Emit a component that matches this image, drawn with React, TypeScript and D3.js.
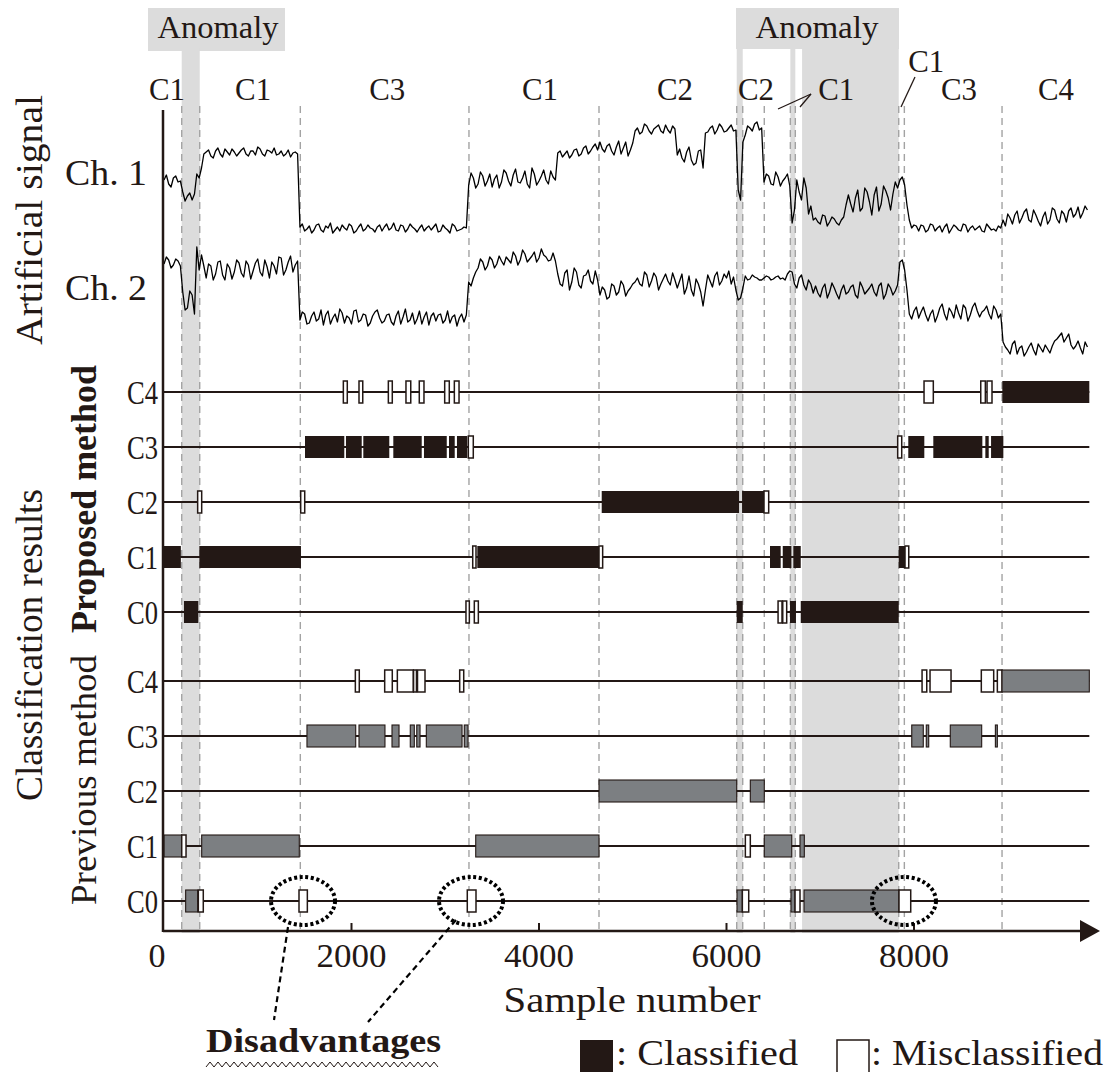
import React from "react";
import * as d3 from "d3";

const W = 1112;
const H = 1072;
const INK = "#231815";
const GRAY_BAR = "#7c7f82";
const SHADE = "#dcdcdc";
const SERIF = "Times New Roman, Times, Liberation Serif, Nimbus Roman, FreeSerif, serif";

// Artificial signal: readings every SAMPLE_STEP samples, plus the in-between
// readings (offset by half a step)
const SAMPLE_STEP = 50;
const ch1Values = [
  7.0, 6.6, 7.2, 6.8,
  5.8, 5.4, 5.0, 7.6, 8.2,
  9.8, 9.4, 9.9, 9.6, 10.1, 9.5, 9.8, 9.7, 10.2, 9.4, 9.9, 10.3, 9.6, 10.0, 9.7, 9.5, 9.9, 9.6, 9.3, 9.8,
  2.3, 1.9, 2.4, 2.0, 2.6, 1.8, 2.2, 1.7, 2.3, 2.5, 2.0, 2.4, 1.9, 2.6, 2.1, 2.2, 1.8, 2.5, 2.3, 2.0,
  2.7, 1.9, 2.4, 2.1, 2.3, 1.8, 2.5, 2.2, 2.0, 2.6, 1.9, 2.2, 1.7, 2.4, 2.0, 2.3,
  6.5, 7.2, 6.6, 7.4, 6.9, 6.3, 7.5, 6.8, 7.7, 6.4, 8.1, 6.7, 7.9, 6.2, 7.6, 6.9, 8.0, 6.6, 7.3,
  9.7, 9.3, 9.9, 9.5, 10.1, 9.6, 10.4, 9.9, 10.6,
  10.8, 9.8, 10.6, 9.5, 10.9, 10.2, 9.4, 10.7,
  12.2, 11.8, 12.4, 11.6, 12.3, 11.9, 12.5, 11.7, 12.1,
  10.1, 8.8, 10.3, 8.5, 9.9, 8.2,
  11.8, 12.4, 12.0, 12.3, 11.9, 12.5,
  12.0, 5.0, 11.5, 12.2, 12.6, 12.0,
  6.8, 7.4, 6.5, 7.3, 6.9, 7.6,
  2.7, 7.0, 5.0, 6.2, 4.4,
  3.2, 2.6, 3.4, 2.8, 3.1, 2.5, 3.3,
  5.5, 3.8, 6.0, 4.2, 5.8, 3.5, 6.3, 4.6, 5.9, 4.0, 6.8,
  7.0, 6.5, 3.0, 2.5,
  1.9, 2.4, 2.0, 2.5, 2.2, 1.8, 2.6, 2.1, 2.3, 1.9, 2.5, 2.2, 2.0, 2.4, 1.8, 2.3, 2.1, 2.4,
  3.0, 3.6, 2.6, 3.9, 3.2, 4.1, 2.8, 3.5, 2.4, 3.8, 3.0, 4.0, 2.7, 3.6, 3.9, 3.3, 4.3, 3.7, 4.0,
];
const ch1Between = [
  7.5, 6.3, 7.4, 6.9,
  4.9, 5.7, 5.6, 7.2, 9.6,
  10.0, 9.2, 10.2, 9.3, 9.8, 10.1, 9.4, 10.0, 9.6, 9.9, 9.5, 10.1, 9.4, 9.9, 10.2, 9.6, 9.4, 10.0, 9.7, 9.6,
  2.6, 2.1, 1.7, 2.5, 2.0, 2.4, 2.7, 2.0, 1.9, 2.2, 2.6, 1.7, 2.3, 1.9, 2.5, 2.1, 2.3, 1.9, 2.6, 2.2,
  2.0, 2.5, 1.8, 2.6, 2.1, 2.2, 1.9, 2.4, 2.3, 1.8, 2.5, 2.0, 2.6, 1.9, 2.1, 2.2,
  7.7, 6.2, 7.8, 6.4, 7.6, 7.1, 6.2, 8.0, 6.9, 7.5, 6.8, 7.2, 6.6, 8.2, 6.5, 7.4, 7.0, 7.9, 7.0,
  9.9, 9.6, 9.2, 10.0, 9.4, 10.2, 9.6, 10.3, 10.0,
  10.1, 10.4, 9.9, 10.3, 9.6, 10.8, 10.0, 11.9,
  11.6, 12.6, 11.9, 12.1, 12.5, 11.7, 12.0, 12.4, 9.5,
  9.2, 9.8, 9.0, 8.7, 10.0, 11.7,
  12.2, 11.6, 12.6, 11.8, 12.2, 11.9,
  6.0, 10.8, 12.4, 11.9, 12.8, 12.2,
  7.6, 6.6, 7.8, 6.4, 7.2, 6.4,
  4.0, 5.8, 7.2, 3.6, 3.0,
  2.8, 3.5, 2.4, 3.3, 2.7, 3.0, 4.5,
  4.6, 5.2, 3.9, 6.2, 4.8, 5.5, 3.9, 6.4, 5.2, 5.6, 6.2,
  7.3, 4.5, 2.2, 2.4,
  2.5, 1.8, 2.6, 1.9, 2.4, 2.3, 1.7, 2.5, 2.0, 2.6, 1.8, 2.4, 2.2, 1.9, 2.6, 2.0, 1.9, 2.2,
  2.4, 3.2, 3.5, 2.7, 3.8, 3.0, 4.0, 2.9, 3.3, 2.6, 4.2, 3.1, 3.9, 2.8, 4.2, 3.6, 3.2, 4.4,
];
const ch2Values = [
  9.6, 10.0, 9.5, 9.9,
  6.8, 5.2, 6.5, 11.3, 10.5,
  8.2, 9.4, 8.6, 9.9, 8.0, 9.2, 8.8, 9.7, 8.3, 9.5, 8.9, 10.1, 8.4, 9.3, 9.8, 8.6, 10.2, 9.0, 10.4, 9.5,
  4.0, 4.6, 3.7, 4.8, 4.1, 3.5, 4.9, 4.2, 3.8, 4.7, 4.4, 3.6, 5.0, 4.0, 4.5, 3.7, 4.8, 4.2, 3.9, 4.6,
  3.5, 4.9, 4.3, 3.8, 4.7, 4.1, 3.6, 4.8, 4.4, 3.9, 4.6, 4.0, 3.7, 4.5, 4.2, 3.8,
  7.8, 8.2, 9.2, 9.8, 9.4, 10.0, 9.6, 9.9, 10.3, 9.7, 10.4, 10.0, 10.6, 10.1, 10.8, 10.2, 10.5, 9.9, 10.7,
  8.6, 7.4, 9.0, 7.8, 8.8, 7.2, 8.5, 7.9, 8.9,
  6.5, 7.0, 6.3, 7.4, 6.8, 7.5, 6.9, 7.6,
  8.2, 7.4, 8.5, 7.9, 8.3, 7.6, 8.6, 7.5, 8.0,
  7.9, 6.6, 8.4, 6.4, 7.6, 5.4,
  8.5, 7.3, 8.8, 7.9, 8.2, 7.6,
  7.0, 6.2, 8.4, 8.1, 8.3, 8.0,
  8.2, 8.3, 8.1, 8.4, 8.2, 8.6,
  8.8, 7.2, 8.5, 7.0, 7.6,
  7.4, 6.3, 7.6, 6.8, 7.2, 6.1, 7.5,
  6.8, 7.5, 6.2, 7.3, 6.9, 7.6, 6.4, 7.7, 6.6, 7.2, 6.9,
  9.8, 9.0, 4.6, 4.9,
  4.2, 5.3, 3.9, 5.0, 4.4, 5.6, 4.0, 4.8, 5.5, 4.1, 5.2, 4.5, 5.7, 4.3, 5.0, 4.6, 5.4, 4.2,
  1.8, 1.0, 1.6, 0.6, 1.4, 0.8, 1.7, 0.5, 1.2, 1.5, 0.7, 1.9, 2.4, 1.8, 2.6, 1.1, 1.9, 0.6, 1.3,
];
const ch2Between = [
  10.3, 9.2, 10.1, 9.4,
  5.0, 6.9, 4.6, 9.0, 9.4,
  9.6, 8.0, 9.8, 8.5, 9.6, 8.1, 10.0, 8.7, 9.9, 8.1, 9.7, 8.8, 10.0, 8.2, 9.4, 10.3, 8.5, 9.8, 8.8, 9.9,
  4.8, 3.6, 4.4, 3.9, 5.0, 4.5, 3.6, 4.6, 5.1, 3.7, 4.2, 4.9, 3.8, 4.6, 3.4, 4.4, 5.0, 3.7, 4.5, 3.8,
  4.4, 3.6, 5.1, 4.0, 3.6, 4.9, 4.3, 3.5, 4.7, 4.5, 3.7, 4.9, 4.3, 3.4, 4.6, 4.5,
  7.4, 8.8, 10.1, 9.0, 10.3, 9.2, 10.4, 9.5, 10.0, 10.8, 9.5, 11.0, 9.8, 10.4, 9.8, 11.1, 10.3, 10.0, 9.9,
  7.6, 8.7, 7.0, 9.2, 7.5, 8.4, 9.0, 7.6, 8.0,
  7.3, 6.1, 7.6, 6.5, 7.9, 6.4, 7.2, 7.8,
  7.6, 8.8, 7.3, 8.7, 7.0, 8.1, 7.9, 8.7, 7.2,
  8.6, 7.2, 7.0, 8.1, 6.8, 7.0,
  7.9, 8.4, 7.5, 8.6, 8.9, 8.3,
  6.0, 7.2, 8.0, 8.5, 8.2, 8.0,
  8.4, 8.0, 8.3, 8.1, 8.0, 8.9,
  7.6, 8.2, 7.5, 8.0, 6.7,
  6.7, 7.2, 6.2, 7.7, 6.6, 7.0, 6.6,
  7.3, 6.5, 7.8, 6.6, 7.2, 6.8, 7.4, 6.1, 7.6, 6.5, 7.5,
  10.0, 7.0, 4.1, 5.3,
  4.8, 4.5, 4.6, 3.8, 5.2, 4.6, 5.2, 4.2, 4.7, 5.5, 3.9, 5.3, 4.9, 4.8, 5.4, 4.1, 5.0, 4.6,
  1.3, 0.6, 1.9, 1.2, 0.4, 1.3, 1.0, 1.6, 0.8, 1.1, 1.4, 2.1, 2.7, 2.2, 1.5, 1.4, 1.2, 1.8,
];

const SAMPLE_END = 9870;
const xTicks = [0, 2000, 4000, 6000, 8000];
const classNames = ["C4", "C3", "C2", "C1", "C0"];

// Segment boundaries (sample numbers) and anomaly intervals
const segmentBounds = [189, 381, 1454, 3253, 4640, 6109, 6173, 6403, 6681, 6734, 7837, 7897, 8939];
const anomalySpans: [number, number][] = [[189, 381], [6109, 6173], [6681, 6734], [6806, 7837]];

// True class of each segment, placed at sample position
const segmentLabels = [
  { text: "C1", at: 32, raised: false },
  { text: "C1", at: 950, raised: false },
  { text: "C3", at: 2380, raised: false },
  { text: "C1", at: 4010, raised: false },
  { text: "C2", at: 5450, raised: false },
  { text: "C2", at: 6315, raised: false },
  { text: "C1", at: 7170, raised: false },
  { text: "C1", at: 8130, raised: true },
  { text: "C3", at: 8480, raised: false },
  { text: "C4", at: 9515, raised: false },
];

// Classification intervals: [start, end, classified(1) / misclassified(0)]
type Seg = [number, number, number];
const proposedC4: Seg[] = [[1913, 1955, 0], [2080, 2120, 0], [2393, 2435, 0], [2581, 2632, 0], [2723, 2773, 0], [2994, 3043, 0], [3097, 3147, 0], [8107, 8206, 0], [8712, 8761, 0], [8779, 8832, 0], [8942, 9870, 1]];
const proposedC3: Seg[] = [[1504, 1923, 1], [1941, 2109, 1], [2126, 2403, 1], [2446, 2749, 1], [2773, 3016, 1], [3040, 3101, 1], [3125, 3235, 1], [3246, 3299, 0], [7826, 7869, 0], [7939, 8110, 1], [8206, 8729, 1], [8761, 8797, 1], [8822, 8953, 1]];
const proposedC2: Seg[] = [[359, 402, 0], [1458, 1501, 0], [4669, 6134, 1], [6166, 6400, 1], [6400, 6450, 0]];
const proposedC1: Seg[] = [[0, 180, 1], [377, 1461, 1], [3293, 3328, 0], [3342, 4640, 1], [4640, 4679, 0], [6464, 6578, 1], [6600, 6692, 1], [6713, 6792, 1], [7837, 7904, 1], [7904, 7944, 0]];
const proposedC0: Seg[] = [[213, 366, 1], [3221, 3257, 0], [3310, 3353, 0], [6109, 6173, 1], [6550, 6592, 0], [6600, 6642, 0], [6677, 6741, 1], [6792, 7837, 1]];

const previousC4: Seg[] = [[2041, 2083, 0], [2354, 2435, 0], [2489, 2659, 0], [2662, 2693, 0], [2704, 2784, 0], [3154, 3197, 0], [8086, 8136, 0], [8171, 8395, 0], [8718, 8850, 0], [8889, 8939, 0], [8939, 9870, 1]];
const previousC3: Seg[] = [[1525, 2045, 1], [2080, 2357, 1], [2432, 2507, 1], [2627, 2670, 1], [2696, 2731, 1], [2798, 3179, 1], [3203, 3243, 1], [7976, 8099, 1], [8131, 8157, 1], [8387, 8722, 1], [8868, 8889, 1]];
const previousC2: Seg[] = [[4640, 6109, 1], [6254, 6403, 1]];
const previousC1: Seg[] = [[0, 189, 1], [189, 235, 0], [402, 1443, 1], [3325, 4640, 1], [6201, 6254, 0], [6403, 6696, 1], [6784, 6830, 1]];
const previousC0: Seg[] = [[231, 359, 1], [366, 419, 0], [1440, 1529, 0], [3235, 3328, 0], [6112, 6169, 1], [6169, 6237, 0], [6688, 6731, 1], [6731, 6784, 0], [6827, 7840, 1], [7840, 7965, 0]];

// Circled weaknesses of the previous method (sample positions, row C0)
const weakSpots = [1483, 3275, 7893];

// Merge the on-step and half-step readings into [sample, value] pairs
function toSeries(onStep: number[], between: number[]): [number, number][] {
  const out: [number, number][] = [];
  onStep.forEach((v, i) => {
    out.push([i * SAMPLE_STEP, v]);
    if (i < between.length && i < onStep.length - 1) out.push([i * SAMPLE_STEP + SAMPLE_STEP / 2, between[i]]);
  });
  return out;
}

export default function App() {
  const x = d3.scaleLinear().domain([0, 8000]).range([164, 914]);
  const y1 = d3.scaleLinear().domain([0, 10]).range([250, 150]);
  const y2 = d3.scaleLinear().domain([0, 10]).range([360, 260]);
  const yProp = d3.scalePoint<string>().domain(classNames).range([392, 612]);
  const yPrev = d3.scalePoint<string>().domain(classNames).range([681, 901]);

  const lineGen = (ys: d3.ScaleLinear<number, number>) =>
    d3
      .line<[number, number]>()
      .x((d) => x(d[0]))
      .y((d) => ys(d[1]));

  const series1 = toSeries(ch1Values, ch1Between);
  const series2 = toSeries(ch2Values, ch2Between);

  const proposed = [proposedC4, proposedC3, proposedC2, proposedC1, proposedC0];
  const previous = [previousC4, previousC3, previousC2, previousC1, previousC0];

  const BAR_H = 22;
  const axisY = 931;
  const x0 = 163;
  const xEnd = x(SAMPLE_END);

  const rows = (
    sets: Seg[][],
    yS: d3.ScalePoint<string>,
    fill: string,
    key: string
  ) =>
    sets.map((segs, r) => {
      const cy = yS(classNames[r])!;
      return (
        <g key={key + r}>
          <line x1={x0} x2={xEnd} y1={cy} y2={cy} stroke={INK} strokeWidth={2} />
          {segs.map(([a, b, ok], i) => (
            <rect
              key={i}
              x={x(a)}
              y={cy - BAR_H / 2}
              width={Math.max(x(b) - x(a), 1)}
              height={BAR_H}
              fill={ok ? fill : "#ffffff"}
              stroke={ok && fill === INK ? "none" : INK}
              strokeWidth={ok ? 1.1 : 1.5}
            />
          ))}
          <text
            x={158}
            y={cy + 11.5}
            textAnchor="end"
            fontFamily={SERIF}
            fontSize={33}
            textLength={31}
            lengthAdjust="spacingAndGlyphs"
            fill={INK}
          >
            {classNames[r]}
          </text>
        </g>
      );
    });

  // zigzag underline beneath "Disadvantages"
  const zig: [number, number][] = [];
  for (let px = 206, k = 0; px <= 441; px += 4, k++) zig.push([px, k % 2 ? 1062 : 1067]);

  return (
    <svg width={W} height={H} viewBox={`0 0 ${W} ${H}`} style={{ display: "block", position: "absolute", left: 0, top: 0 }}>
      <rect width={W} height={H} fill="#ffffff" />

      {/* anomaly shading with label boxes */}
      <rect x={148} y={8} width={137} height={43} fill={SHADE} />
      <rect x={736} y={8} width={163} height={41} fill={SHADE} />
      {anomalySpans.map(([a, b], i) => (
        <rect key={i} x={x(a)} y={48} width={x(b) - x(a)} height={933 - 48} fill={SHADE} />
      ))}
      <text x={218} y={38} textAnchor="middle" fontFamily={SERIF} fontSize={32} textLength={121} lengthAdjust="spacingAndGlyphs" fill={INK}>Anomaly</text>
      <text x={817} y={38} textAnchor="middle" fontFamily={SERIF} fontSize={32} textLength={123} lengthAdjust="spacingAndGlyphs" fill={INK}>Anomaly</text>

      {/* segment boundaries */}
      {segmentBounds.map((s, i) => (
        <line key={i} x1={x(s)} x2={x(s)} y1={106} y2={930} stroke="#a3a3a3" strokeWidth={1.4} strokeDasharray="7 5" />
      ))}

      {/* true segment classes */}
      {segmentLabels.map((d, i) => (
        <text key={i} x={x(d.at)} y={d.raised ? 72 : 100} textAnchor="middle" fontFamily={SERIF} fontSize={32} textLength={36} lengthAdjust="spacingAndGlyphs" fill={INK}>
          {d.text}
        </text>
      ))}
      <line x1={778} y1={109} x2={811} y2={94} stroke={INK} strokeWidth={1.3} />
      <line x1={800} y1={107} x2={811} y2={94} stroke={INK} strokeWidth={1.3} />
      <line x1={915} y1={77} x2={901} y2={107} stroke={INK} strokeWidth={1.3} />

      {/* signals */}
      <path d={lineGen(y1)(series1) || ""} fill="none" stroke="#000" strokeWidth={1.3} strokeLinejoin="round" />
      <path d={lineGen(y2)(series2) || ""} fill="none" stroke="#000" strokeWidth={1.3} strokeLinejoin="round" />
      <text x={65} y={185} fontFamily={SERIF} fontSize={35} textLength={82} lengthAdjust="spacingAndGlyphs" fill={INK}>Ch. 1</text>
      <text x={65} y={300} fontFamily={SERIF} fontSize={35} textLength={82} lengthAdjust="spacingAndGlyphs" fill={INK}>Ch. 2</text>

      {/* classification rows */}
      {rows(proposed, yProp, INK, "p")}
      {rows(previous, yPrev, GRAY_BAR, "q")}

      {/* axes */}
      <line x1={x0} x2={x0} y1={110} y2={axisY + 1} stroke={INK} strokeWidth={2.5} />
      <line x1={x0} x2={1084} y1={axisY} y2={axisY} stroke={INK} strokeWidth={2.5} />
      <polygon points={`1080,920 1100,931 1080,942`} fill={INK} />
      {xTicks.map((t) => (
        <g key={t}>
          {t > 0 && <line x1={x(t)} x2={x(t)} y1={923} y2={axisY} stroke={INK} strokeWidth={2} />}
          <text
            x={t === 0 ? 157 : x(t)}
            y={967}
            textAnchor="middle"
            fontFamily={SERIF}
            fontSize={34}
            textLength={t === 0 ? 17 : 70}
            lengthAdjust="spacingAndGlyphs"
            fill={INK}
          >
            {t}
          </text>
        </g>
      ))}
      <text x={632} y={1012} textAnchor="middle" fontFamily={SERIF} fontSize={36} textLength={257} lengthAdjust="spacingAndGlyphs" fill={INK}>
        Sample number
      </text>

      {/* side titles */}
      <text transform="translate(42,220) rotate(-90)" textAnchor="middle" fontFamily={SERIF} fontSize={37} textLength={250} lengthAdjust="spacingAndGlyphs" fill={INK}>
        Artificial signal
      </text>
      <text transform="translate(42,645) rotate(-90)" textAnchor="middle" fontFamily={SERIF} fontSize={37} textLength={312} lengthAdjust="spacingAndGlyphs" fill={INK}>
        Classification results
      </text>
      <text transform="translate(96,499) rotate(-90)" textAnchor="middle" fontFamily={SERIF} fontSize={36} fontWeight="bold" textLength={268} lengthAdjust="spacingAndGlyphs" fill={INK}>
        Proposed method
      </text>
      <text transform="translate(96,780) rotate(-90)" textAnchor="middle" fontFamily={SERIF} fontSize={36} textLength={250} lengthAdjust="spacingAndGlyphs" fill={INK}>
        Previous method
      </text>

      {/* highlighted weak spots */}
      {weakSpots.map((s, i) => (
        <ellipse key={i} cx={x(s)} cy={yPrev("C0")!} rx={32} ry={24} fill="none" stroke="#000" strokeWidth={4} strokeDasharray="3 2.6" />
      ))}
      <line x1={288} y1={927} x2={274} y2={1020} stroke="#000" strokeWidth={2.2} strokeDasharray="6 4" />
      <line x1={456} y1={920} x2={368} y2={1022} stroke="#000" strokeWidth={2.2} strokeDasharray="6 4" />
      <text x={206} y={1052} fontFamily={SERIF} fontSize={34} fontWeight="bold" textLength={235} lengthAdjust="spacingAndGlyphs" fill={INK}>
        Disadvantages
      </text>
      <path d={d3.line()(zig) || ""} fill="none" stroke={INK} strokeWidth={1} />

      {/* legend */}
      <rect x={580} y={1040} width={33} height={40} fill={INK} />
      <text x={616} y={1065} fontFamily={SERIF} fontSize={35} textLength={182} lengthAdjust="spacingAndGlyphs" fill={INK}>: Classified</text>
      <rect x={837} y={1040} width={32} height={40} fill="#fff" stroke={INK} strokeWidth={1.5} />
      <text x={871} y={1065} fontFamily={SERIF} fontSize={35} textLength={232} lengthAdjust="spacingAndGlyphs" fill={INK}>: Misclassified</text>
    </svg>
  );
}
